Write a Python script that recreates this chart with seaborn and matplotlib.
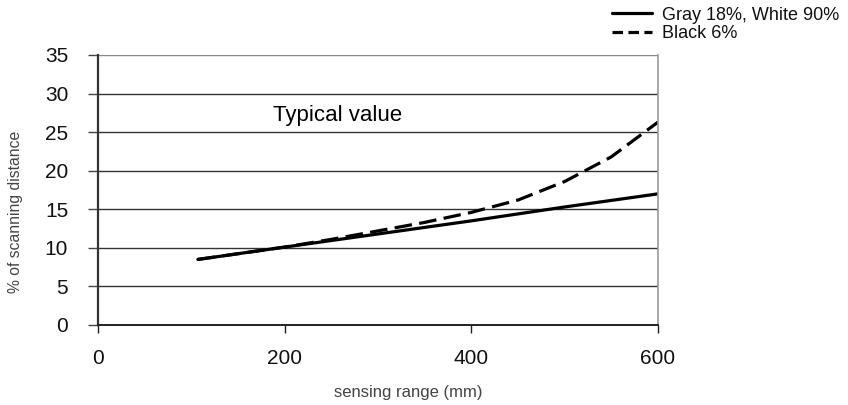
import matplotlib
matplotlib.use("Agg")
import matplotlib.pyplot as plt
import seaborn as sns
import pandas as pd
from matplotlib.lines import Line2D

# ---- data ----
solid_label = "Gray 18%, White 90%"
dashed_label = "Black 6%"
solid_x = [107, 200, 300, 400, 500, 600]
solid_y = [8.5, 10.1, 11.8, 13.5, 15.3, 17.0]
dashed_x = [107, 200, 250, 300, 350, 400, 450, 500, 550, 600]
dashed_y = [8.5, 10.1, 11.1, 12.2, 13.3, 14.6, 16.2, 18.6, 21.8, 26.3]
x_ticks = [0, 200, 400, 600]
y_ticks = [0, 5, 10, 15, 20, 25, 30, 35]
x_title = "sensing range (mm)"
y_title = "% of scanning distance"
note = "Typical value"

df = pd.concat([
    pd.DataFrame({"x": solid_x, "y": solid_y, "series": solid_label}),
    pd.DataFrame({"x": dashed_x, "y": dashed_y, "series": dashed_label}),
], ignore_index=True)

sns.set_theme(style="white")
plt.rcParams["font.family"] = ["Liberation Sans", "DejaVu Sans"]

fig = plt.figure(figsize=(8.48, 4.05), dpi=100)
ax = fig.add_axes([98 / 848, 1 - 325 / 405, 560 / 848, 270 / 405])

sns.lineplot(data=df, x="x", y="y", style="series",
             dashes={solid_label: "", dashed_label: (5.5, 2.3)},
             color="black", linewidth=2.3, ax=ax, legend=False,
             estimator=None, sort=False)

ax.set_xlim(0, 600)
ax.set_ylim(0, 35)
ax.set_xticks(x_ticks)
ax.set_yticks(y_ticks)
ax.set_xticklabels([str(v) for v in x_ticks], fontsize=15, color="#111111")
ax.set_yticklabels([str(v) for v in y_ticks], fontsize=15, color="#111111")

for yv in y_ticks[1:]:
    ax.axhline(yv, color="#333333" if yv < 35 else "#888888", linewidth=1.0, zorder=0)

ax.tick_params(axis="y", direction="out", length=7.5, width=1.0, color="#444444", pad=14, left=True)
ax.tick_params(axis="x", direction="out", length=6, width=1.0, color="#222222", pad=11, bottom=True)

ax.spines["left"].set_color("#333333")
ax.spines["left"].set_linewidth(1.6)
ax.spines["bottom"].set_color("#222222")
ax.spines["bottom"].set_linewidth(1.4)
ax.spines["right"].set_color("#999999")
ax.spines["right"].set_linewidth(1.2)
ax.spines["top"].set_visible(False)

ax.set_xlabel(x_title, fontsize=12, color="#444444")
ax.xaxis.set_label_coords(0.554, -0.223)
ax.set_ylabel(y_title, fontsize=11.3, color="#444444")
ax.yaxis.set_label_coords(-0.134, 0.42)

ax.text(187, 27.2, note, fontsize=16, color="black", ha="left", va="center")

handles = [Line2D([], [], color="black", linewidth=2.3, linestyle="-"),
           Line2D([], [], color="black", linewidth=2.3, linestyle=(0, (3.3, 1.7)))]
fig.legend(handles, [solid_label, dashed_label], loc="upper left",
           bbox_to_anchor=(610 / 848, 0.988), frameon=False, fontsize=13,
           handlelength=2.2, handletextpad=0.6, labelspacing=0.1,
           borderaxespad=0.0, borderpad=0.1, labelcolor="#111111")

fig.savefig("out.png", dpi=100)
